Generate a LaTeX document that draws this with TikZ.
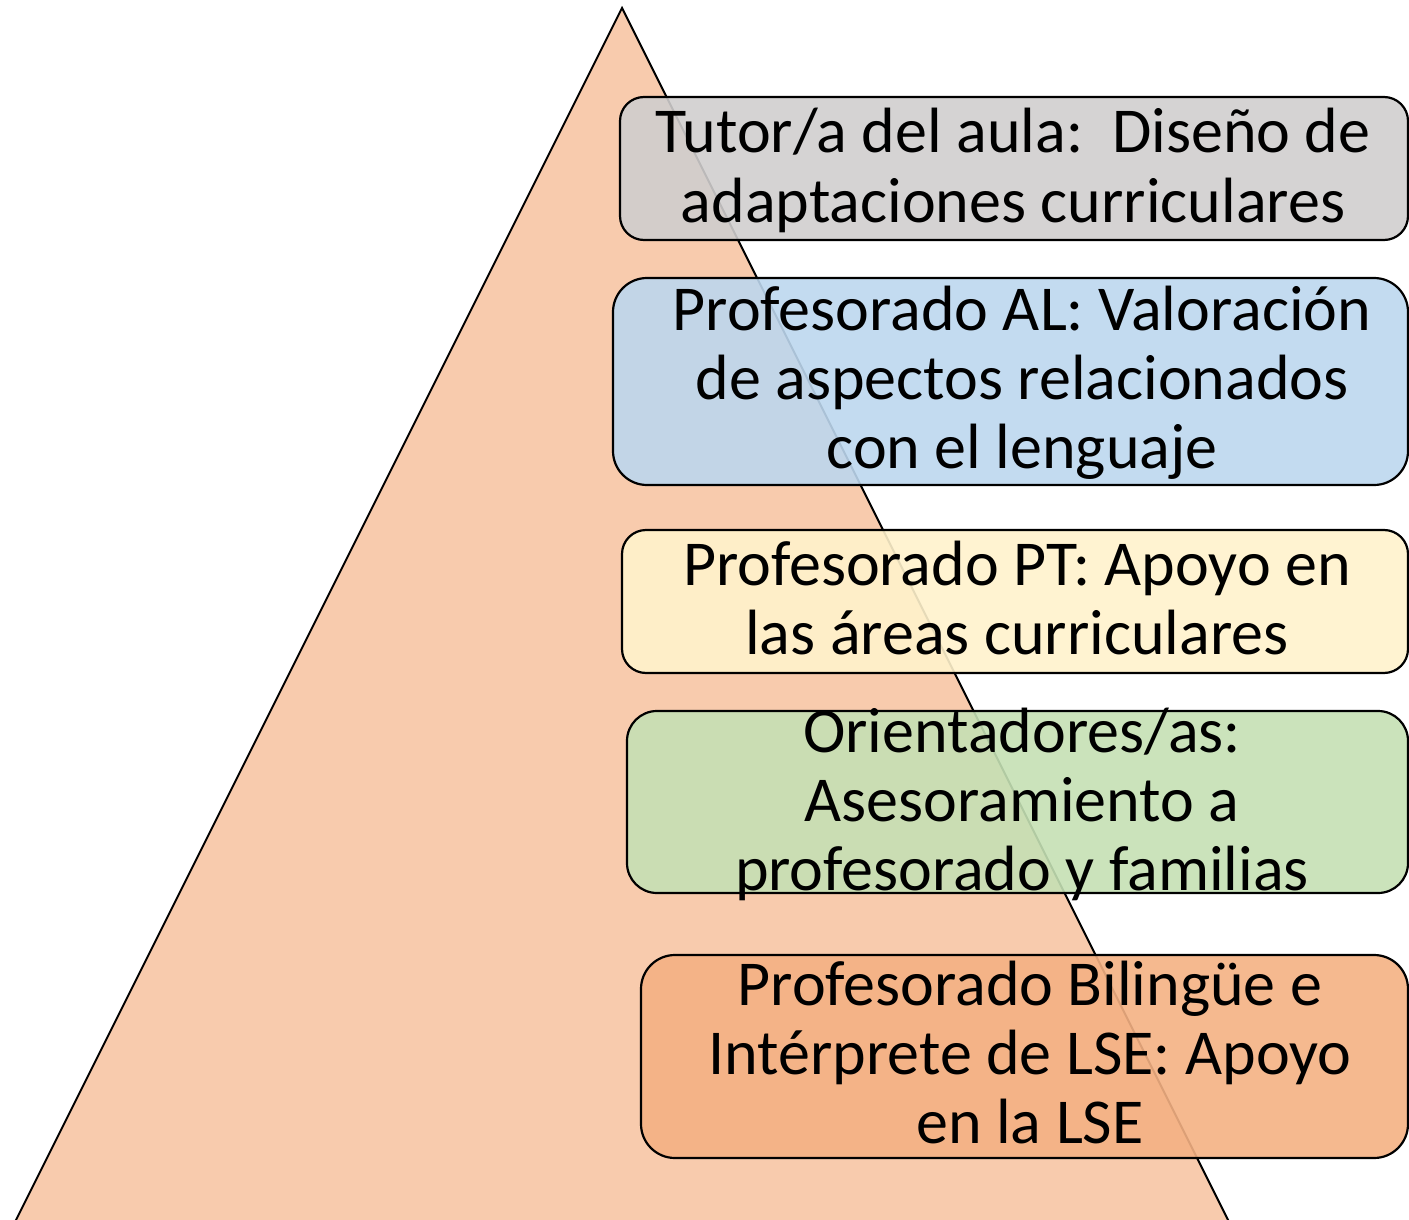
\documentclass[tikz,border=0pt]{standalone}
\usepackage{fontspec}
\setmainfont{Carlito}
\definecolor{tri}{HTML}{F8CBAD}
\definecolor{cgray}{HTML}{D0CECE}
\definecolor{cblue}{HTML}{BDD7EE}
\definecolor{cyellow}{HTML}{FFF2CC}
\definecolor{cgreen}{HTML}{C5E0B4}
\definecolor{corange}{HTML}{F4B183}
\begin{document}
\begin{tikzpicture}[x=0.5pt,y=-0.5pt,
  box/.style={draw=black, line width=1.1pt, fill opacity=0.9, inner sep=0pt, rectangle},
  lbl/.style={anchor=base, inner sep=0pt, font=\fontsize{32}{34.6}\selectfont}]
\useasboundingbox (0,0) rectangle (1409,1220);
\clip (0,0) rectangle (1409,1220);
\draw[fill=tri, line width=1pt] (622,8) -- (1240,1244) -- (4,1244) -- cycle;
\node[box, fill=cgray, minimum width=394pt, minimum height=71.5pt, rounded corners=12pt] (b1) at (1014,168.5) {};
\node[box, fill=cblue, minimum width=397.5pt, minimum height=103.5pt, rounded corners=17pt] (b2) at (1010.5,381.5) {};
\node[box, fill=cyellow, minimum width=393pt, minimum height=71.5pt, rounded corners=12pt] (b3) at (1015,601.5) {};
\node[box, fill=cgreen, minimum width=390.5pt, minimum height=91pt, rounded corners=15pt] (b4) at (1017.5,802) {};
\node[box, fill=corange, minimum width=383.5pt, minimum height=101.5pt, rounded corners=17pt] (b5) at (1024.5,1056.5) {};
\node[lbl] (t1) at (1013,153) {\begin{tabular}[t]{@{}c@{}}Tutor/a del aula:\ \ Diseño de\\adaptaciones curriculares\end{tabular}};
\node[lbl] (t2) at (1022,330) {\begin{tabular}[t]{@{}c@{}}Profesorado AL: Valoración\\de aspectos relacionados\\con el lenguaje\end{tabular}};
\node[lbl] (t3) at (1017,585) {\begin{tabular}[t]{@{}c@{}}Profesorado PT: Apoyo en\\las áreas curriculares\end{tabular}};
\node[lbl] (t4) at (1022,752) {\begin{tabular}[t]{@{}c@{}}Orientadores/as:\\Asesoramiento a\\profesorado y familias\end{tabular}};
\node[lbl] (t5) at (1030,1005) {\begin{tabular}[t]{@{}c@{}}Profesorado Bilingüe e\\Intérprete de LSE: Apoyo\\en la LSE\end{tabular}};
\end{tikzpicture}
\end{document}
